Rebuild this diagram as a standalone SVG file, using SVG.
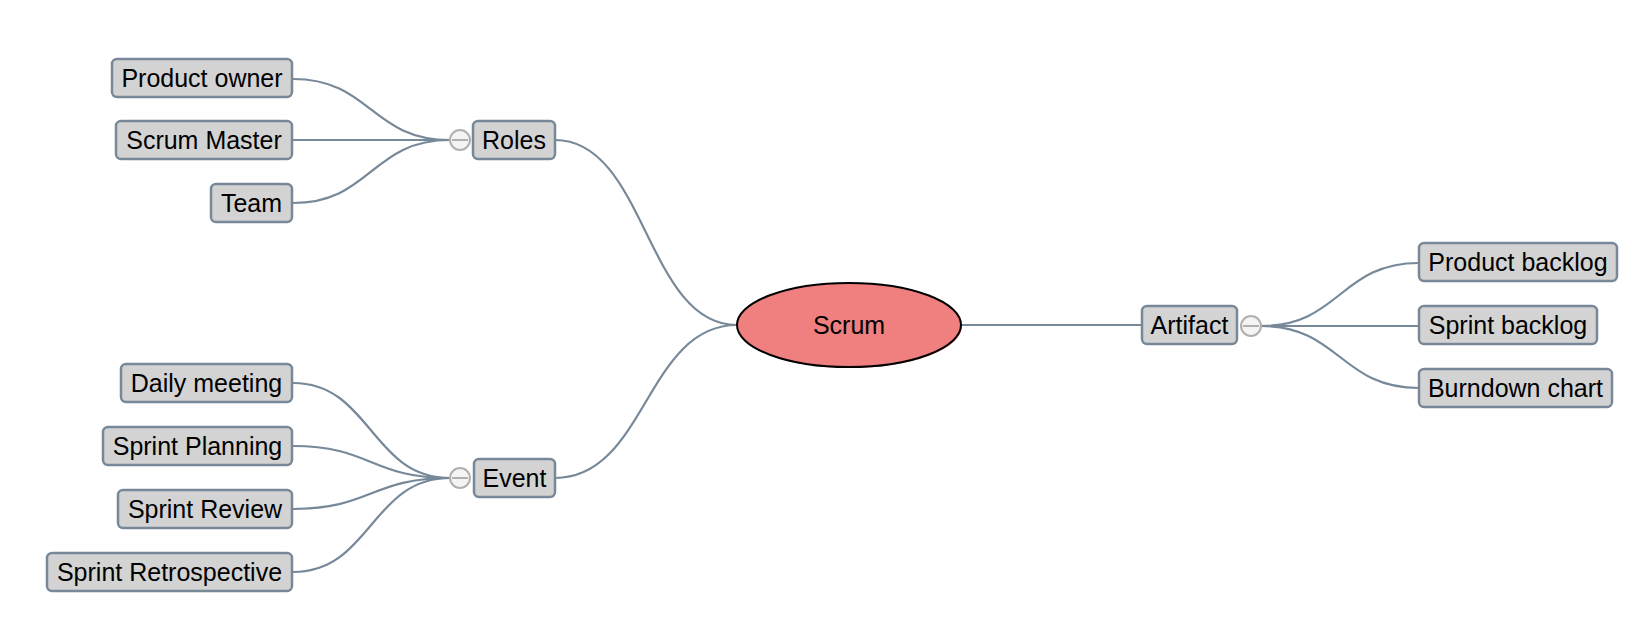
<svg xmlns="http://www.w3.org/2000/svg" width="1646" height="625" viewBox="0 0 1646 625">
<style>
.box{fill:#d3d3d3;stroke:#778899;stroke-width:2.5}
.lbl{font-family:"Liberation Sans",Arial,sans-serif;font-size:25px;fill:#000;text-anchor:middle}
.edge{fill:none;stroke:#778899;stroke-width:2.2}
.tog circle{fill:#f4f4f4;stroke:#b0b0b0;stroke-width:2}
.tog line{stroke:#b0b0b0;stroke-width:2}
</style>
<rect width="1646" height="625" fill="#fff"/>
<g id="connectors">
<path class="edge" d="M293,79 C371,79 371,140 450,140"/>
<path class="edge" d="M293,140 L450,140"/>
<path class="edge" d="M293,203 C371,203 371,140 450,140"/>
<path class="edge" d="M293,383 C371,383 371,478 450,478"/>
<path class="edge" d="M293,446 C371,446 371,478 450,478"/>
<path class="edge" d="M293,509 C371,509 371,478 450,478"/>
<path class="edge" d="M293,572 C371,572 371,478 450,478"/>
<path class="edge" d="M555,140 C646,140 646,325 737,325"/>
<path class="edge" d="M555,478 C646,478 646,325 737,325"/>
<path class="edge" d="M961,325 L1142,325"/>
<path class="edge" d="M1261,326 C1340,326 1340,263 1419,263"/>
<path class="edge" d="M1261,326 L1419,326"/>
<path class="edge" d="M1261,326 C1340,326 1340,388 1419,388"/>
</g>
<g id="scrum">
<ellipse cx="850" cy="326" rx="112" ry="42" fill="#f08080"/>
<ellipse cx="849" cy="325" rx="112" ry="42" fill="#f08080" stroke="#000" stroke-width="2"/>
<text class="lbl" x="849" y="334">Scrum</text>
</g>
<g id="roles">
<rect class="box" x="473" y="121" width="82" height="38" rx="5"/>
<text class="lbl" x="514" y="149">Roles</text>
<g class="tog"><circle cx="460" cy="140" r="10"/><line x1="452" y1="140" x2="468" y2="140"/></g>
</g>
<g id="product-owner">
<rect class="box" x="112" y="59" width="180" height="38" rx="5"/>
<text class="lbl" x="202" y="87">Product owner</text>
</g>
<g id="scrum-master">
<rect class="box" x="116" y="121" width="176" height="38" rx="5"/>
<text class="lbl" x="204" y="149">Scrum Master</text>
</g>
<g id="team">
<rect class="box" x="211" y="184" width="81" height="38" rx="5"/>
<text class="lbl" x="251.5" y="212">Team</text>
</g>
<g id="event">
<rect class="box" x="474" y="459" width="81" height="38" rx="5"/>
<text class="lbl" x="514.5" y="487">Event</text>
<g class="tog"><circle cx="460" cy="478" r="10"/><line x1="452" y1="478" x2="468" y2="478"/></g>
</g>
<g id="daily-meeting">
<rect class="box" x="121" y="364" width="171" height="38" rx="5"/>
<text class="lbl" x="206.5" y="392">Daily meeting</text>
</g>
<g id="sprint-planning">
<rect class="box" x="103" y="427" width="189" height="38" rx="5"/>
<text class="lbl" x="197.5" y="455">Sprint Planning</text>
</g>
<g id="sprint-review">
<rect class="box" x="118" y="490" width="174" height="38" rx="5"/>
<text class="lbl" x="205" y="518">Sprint Review</text>
</g>
<g id="sprint-retrospective">
<rect class="box" x="47" y="553" width="245" height="38" rx="5"/>
<text class="lbl" x="169.5" y="581">Sprint Retrospective</text>
</g>
<g id="artifact">
<rect class="box" x="1142" y="306" width="95" height="38" rx="5"/>
<text class="lbl" x="1189.5" y="334">Artifact</text>
<g class="tog"><circle cx="1251" cy="326" r="10"/><line x1="1243" y1="326" x2="1259" y2="326"/></g>
</g>
<g id="product-backlog">
<rect class="box" x="1419" y="243" width="198" height="38" rx="5"/>
<text class="lbl" x="1518" y="271">Product backlog</text>
</g>
<g id="sprint-backlog">
<rect class="box" x="1419" y="306" width="178" height="38" rx="5"/>
<text class="lbl" x="1508" y="334">Sprint backlog</text>
</g>
<g id="burndown-chart">
<rect class="box" x="1419" y="369" width="193" height="38" rx="5"/>
<text class="lbl" x="1515.5" y="397">Burndown chart</text>
</g>
</svg>
